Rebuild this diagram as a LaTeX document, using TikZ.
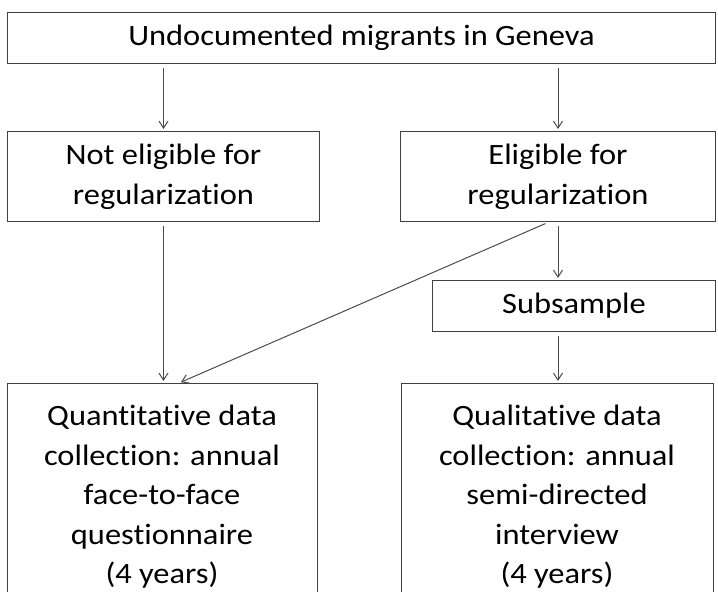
\documentclass[tikz,border=0pt]{standalone}
\usepackage{fontspec}
\setmainfont{Carlito}[FakeStretch=1.1, Ligatures=NoCommon]
\usetikzlibrary{calc, arrows.meta}

\begin{document}
\begin{tikzpicture}[
x=1pt, y=-1pt,
% boxes
box/.style={draw=black!75, line width=1pt, align=center, inner sep=0, font=\fontsize{29.5}{40}\selectfont},
topbox/.style={box, anchor=north west, minimum width=708pt, minimum height=51pt},
midbox/.style={box, anchor=north west, minimum height=90pt},
subbox/.style={box, anchor=north west, minimum width=283pt, minimum height=51pt},
endbox/.style={box, anchor=north, inner ysep=22pt, font=\fontsize{29.5}{39.5}\selectfont},
% connectors
flow/.style={draw=black!70, line width=1pt, -{Straight Barb[length=7pt, width=9pt]}, shorten <=4pt, shorten >=2pt}
]

% frame of the picture
\clip (0,0) rectangle (718,592);

% BOXES
\node[topbox] (migrants) at (7,12) {Undocumented migrants in Geneva};
\node[midbox, minimum width=312pt] (noteligible) at (7,131) {Not eligible for\\regularization};
\node[midbox, minimum width=315pt] (eligible) at (400,131) {Eligible for\\regularization};
\node[subbox] (subsample) at (432,280) {Subsample};
\node[endbox, minimum width=310pt] (quant) at (162,383) {Quantitative data\\collection: annual\\face-to-face\\questionnaire\\(4 years)};
\node[endbox, minimum width=312pt] (qual) at (557,383) {Qualitative data\\collection: annual\\semi-directed\\interview\\(4 years)};

% CONNECTORS
\draw[flow] (migrants.south -| noteligible.north) -- (noteligible.north);
\draw[flow] (migrants.south -| eligible.north) -- (eligible.north);
\draw[flow] (noteligible.south) -- (noteligible.south |- quant.north);
\draw[flow] (eligible.south) -- (eligible.south |- subsample.north);
\draw[flow] (subsample.south -| eligible.south) -- (eligible.south |- qual.north);
\draw[flow] ([xshift=-9pt]eligible.south) -- ([xshift=17pt]quant.north);

\end{tikzpicture}
\end{document}
